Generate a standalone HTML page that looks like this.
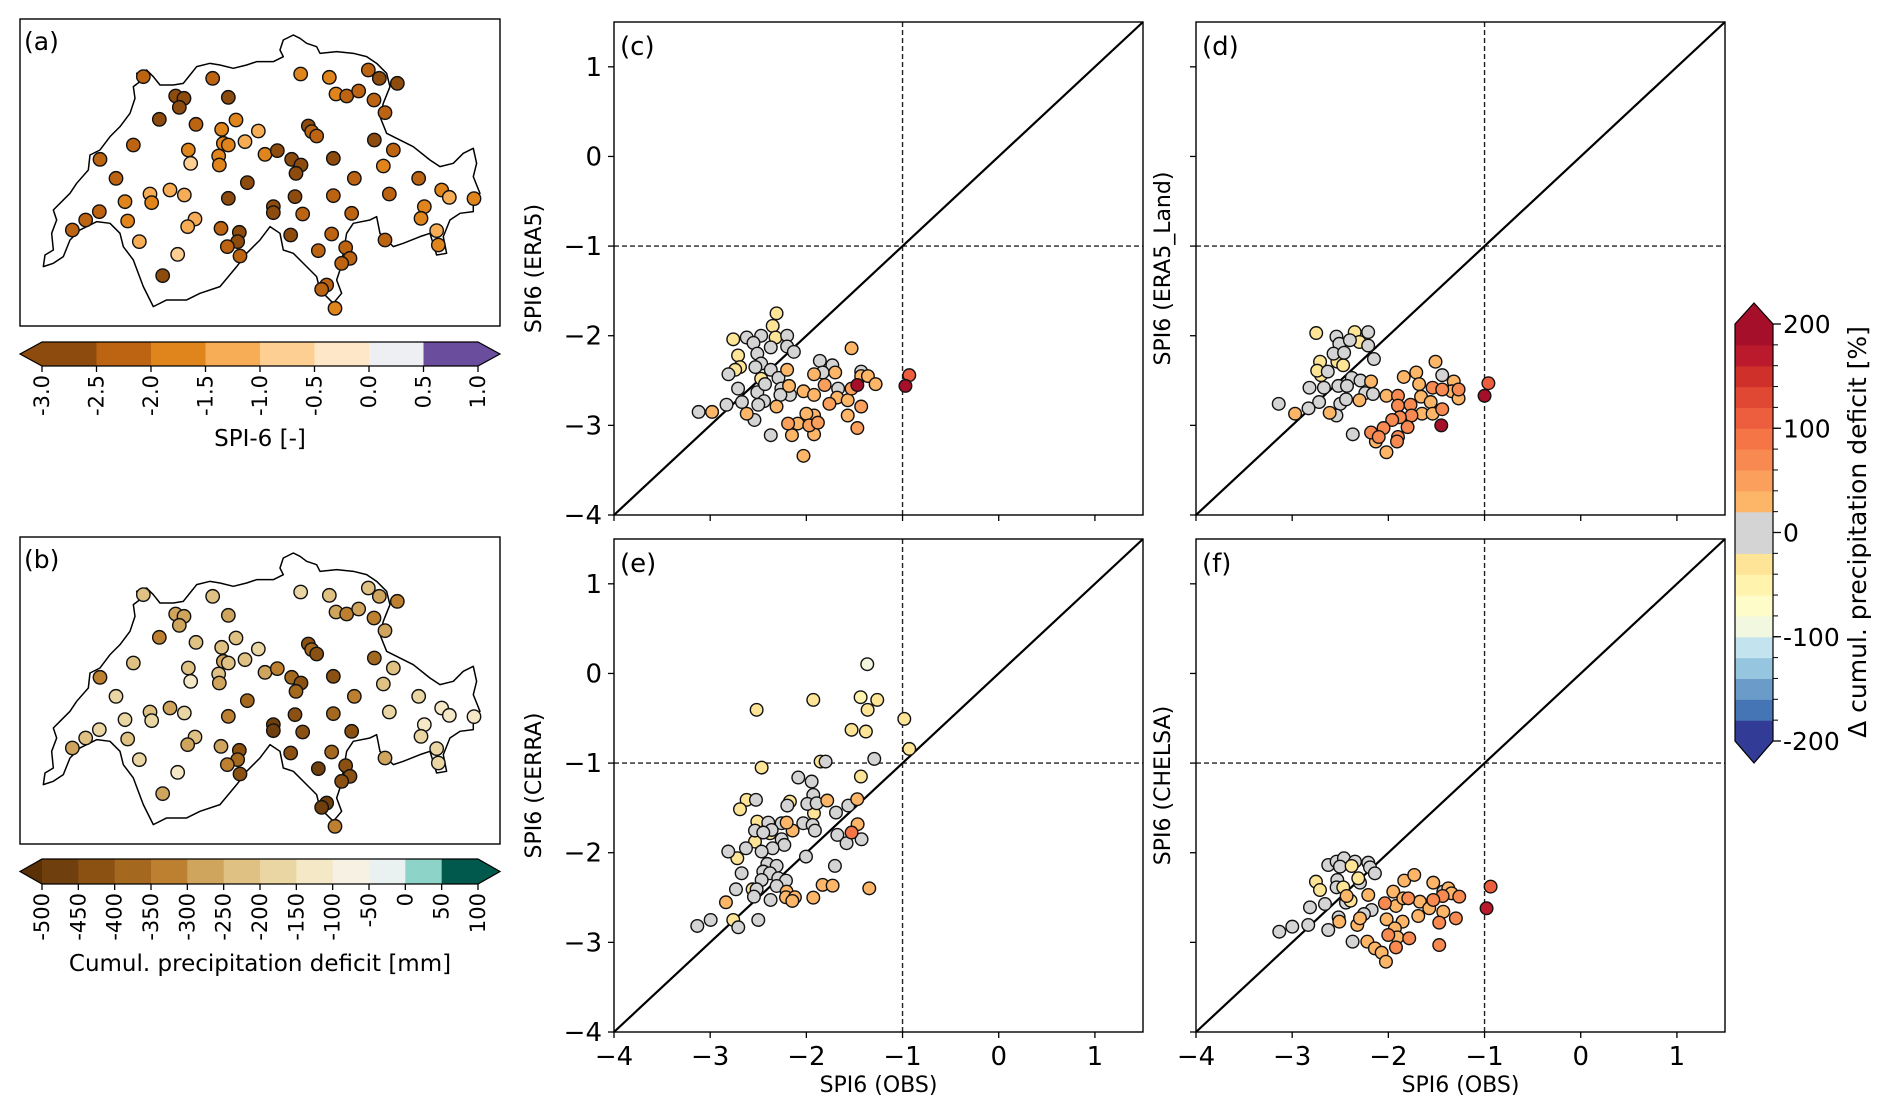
<!DOCTYPE html>
<html><head><meta charset="utf-8"><style>
html,body{margin:0;padding:0;background:#fff;}
svg{display:block;font-family:"DejaVu Sans","Liberation Sans",sans-serif;}
</style></head><body>
<svg id="fig" xmlns="http://www.w3.org/2000/svg" width="1892" height="1116" viewBox="0 0 1892 1116"></svg>
<script>
// ---------- scatter data: SPI6 OBS vs reanalysis, delta cumul. deficit [%] ----------
const obsC=[-2.31,-2.35,-2.76,-2.32,-2.71,-2.69,-2.74,-2.47,
-2.62,-2.47,-2.55,-2.37,-2.2,-2.2,-2.13,-2.51,-2.47,-2.53,-2.37,-2.81,-2.29,-2.71,-2.51,-2.26,-2.17,-2.44,-2.5,-2.67,-2.83,-3.12,-2.54,-2.37,-1.86,-1.73,-1.83,-1.67,-1.43,-2.27,-2.43,
-2.98,-2.62,-2.31,-2.2,-2.18,-2.03,-1.92,-1.92,-1.92,-1.70,-1.68,-1.57,-1.53,-1.43,-1.36,-1.28,-2.15,-2.03,-2.0,-1.57,-1.92,-2.09,
-1.81,-1.76,-2.19,-1.97,-1.88,-1.53,-1.43,-1.47,
-0.93,-1.47,-0.97];
const modC=[-1.75,-1.89,-2.04,-2.02,-2.22,-2.35,-2.38,-2.48,
-2.02,-2.0,-2.08,-2.13,-2.0,-2.12,-2.18,-2.2,-2.31,-2.35,-2.38,-2.43,-2.47,-2.59,-2.63,-2.59,-2.66,-2.73,-2.77,-2.74,-2.77,-2.85,-2.94,-3.11,-2.28,-2.33,-2.41,-2.59,-2.4,-2.66,-2.54,
-2.85,-2.87,-2.79,-2.38,-2.56,-2.62,-2.43,-2.66,-2.89,-2.41,-2.69,-2.72,-2.14,-2.45,-2.45,-2.54,-3.11,-3.34,-2.87,-2.89,-3.10,-2.98,
-2.55,-2.76,-2.98,-3.0,-2.97,-2.59,-2.79,-3.03,
-2.44,-2.55,-2.56];
const dltC=[-30,-30,-30,-30,-30,-30,-30,-30,
0,0,0,0,0,0,0,0,0,0,0,0,0,0,0,0,0,0,0,0,0,0,0,0,0,0,0,0,0,0,0,
30,30,30,30,30,30,30,30,30,30,30,30,30,30,30,30,30,30,30,30,30,30,
50,50,50,50,50,50,50,50,
110,190,190];

const obsD=[-2.75,-2.35,-2.30,-2.71,-2.53,-2.47,-2.70,-2.74,
-2.54,-2.51,-2.40,-2.21,-2.21,-2.57,-2.46,-2.15,-2.63,-2.38,-2.29,-2.82,-2.67,-2.52,-2.43,-2.24,-2.16,-2.72,-2.50,-2.83,-2.54,-3.14,-2.37,-1.44,-2.44,
-2.97,-2.61,-2.30,-2.18,-1.84,-1.71,-1.68,-1.51,-1.32,-1.34,-1.27,-2.02,-1.66,-1.56,-1.65,-1.54,-2.02,-2.13,
-1.90,-1.90,-1.77,-1.76,-1.88,-1.96,-1.80,-2.05,-2.18,-2.10,-1.90,-1.91,-1.44,-1.54,-1.44,-1.27,
-0.96,-1.45,-1.00];
const modD=[-1.97,-1.96,-2.07,-2.29,-2.29,-2.33,-2.44,-2.39,
-2.01,-2.09,-2.05,-1.96,-2.11,-2.20,-2.19,-2.26,-2.40,-2.47,-2.50,-2.58,-2.58,-2.56,-2.56,-2.64,-2.65,-2.74,-2.76,-2.81,-2.89,-2.76,-3.10,-2.44,-2.71,
-2.87,-2.86,-2.72,-2.51,-2.46,-2.41,-2.54,-2.29,-2.51,-2.62,-2.70,-2.67,-2.68,-2.74,-2.87,-2.87,-3.30,-3.18,
-2.67,-2.78,-2.77,-2.89,-2.91,-2.94,-3.02,-3.03,-3.08,-3.13,-3.13,-3.18,-2.82,-2.58,-2.60,-2.60,
-2.53,-3.0,-2.67];
const dltD=[-30,-30,-30,-30,-30,-30,-30,-30,
0,0,0,0,0,0,0,0,0,0,0,0,0,0,0,0,0,0,0,0,0,0,0,0,0,
30,30,30,30,30,30,30,30,30,30,30,30,30,30,30,30,30,30,
70,70,70,70,70,70,70,70,70,70,70,70,70,70,70,70,
110,190,190];

const obsE=[-1.367,-1.928,-2.517,-1.436,-1.263,-1.363,-1.53,-1.381,-0.982,-0.93,-1.852,-2.465,-1.433,-2.621,-2.69,-2.171,-1.921,-2.51,-2.534,-2.718,-2.378,-2.559,-2.76,
-1.8,-1.294,-2.084,-1.945,-2.524,-1.928,-1.99,-1.893,-2.198,-1.692,-1.564,-2.032,-1.935,-1.911,-2.257,-2.396,-2.534,-2.361,-2.448,-1.678,-1.582,-1.426,-2.257,-2.229,-2.351,-2.628,-2.465,-2.812,-2.004,-1.703,-2.406,-2.309,-2.673,-2.448,-2.378,-2.465,-2.292,-2.212,-2.309,-2.732,-2.517,-2.545,-2.372,-2.5,-2.708,-2.995,-3.134,
-1.783,-1.471,-1.467,-2.143,-2.205,-1.831,-1.727,-1.346,-1.928,-2.205,-2.212,-2.119,-2.146,-2.836,
-1.53];
const modE=[0.103,-0.295,-0.406,-0.265,-0.295,-0.406,-0.629,-0.648,-0.507,-0.842,-0.983,-1.05,-1.15,-1.41,-1.515,-1.43,-1.56,-1.653,-1.876,-2.062,-1.783,-2.408,-2.75,
-0.983,-0.953,-1.161,-1.206,-1.41,-1.355,-1.455,-1.448,-1.474,-1.552,-1.474,-1.671,-1.69,-1.753,-1.671,-1.664,-1.753,-1.746,-1.775,-1.801,-1.894,-1.85,-1.85,-1.913,-1.95,-1.95,-1.987,-1.987,-2.043,-2.147,-2.125,-2.147,-2.229,-2.21,-2.229,-2.304,-2.285,-2.311,-2.371,-2.408,-2.408,-2.49,-2.527,-2.75,-2.832,-2.75,-2.817,
-1.418,-1.403,-1.682,-1.753,-1.664,-2.359,-2.367,-2.397,-2.501,-2.434,-2.497,-2.497,-2.538,-2.553,
-1.775];
const dltE=[-90,-30,-30,-50,-30,-30,-30,-30,-30,-30,-30,-30,-30,-30,-30,-30,-30,-30,-30,-30,-30,-30,-30,
0,0,0,0,0,0,0,0,0,0,0,0,0,0,0,0,0,0,0,0,0,0,0,0,0,0,0,0,0,0,0,0,0,0,0,0,0,0,0,0,0,0,0,0,0,0,0,
30,30,30,30,30,30,30,30,30,30,30,30,30,30,
90];

const obsF=[-2.625,-2.538,-2.462,-2.347,-2.209,-2.191,-2.14,-2.531,-2.295,-2.503,-2.538,-2.441,-2.659,-2.815,-2.174,-2.254,-2.517,-2.833,-2.999,-3.134,-2.625,-2.372,-1.429,
-2.753,-2.711,-2.469,-2.393,-2.313,-2.382,
-2.434,-2.209,-2.51,-2.323,-2.295,-1.835,-1.731,-1.533,-1.377,-1.343,-1.949,-1.921,-1.845,-1.672,-1.575,-1.689,-2.018,-1.852,-1.932,-2.219,-2.14,-2.07,-2.025,-1.907,-1.429,
-2.036,-1.793,-1.436,-1.263,-1.533,-1.298,-1.471,-1.783,-2.001,-1.921,-1.471,
-0.937,-0.979];
const modF=[-2.137,-2.099,-2.062,-2.099,-2.111,-2.163,-2.23,-2.304,-2.334,-2.155,-2.386,-2.557,-2.572,-2.609,-2.639,-2.684,-2.721,-2.806,-2.825,-2.881,-2.862,-2.992,-2.434,
-2.323,-2.416,-2.386,-2.535,-2.285,-2.148,
-2.483,-2.471,-2.769,-2.806,-2.732,-2.311,-2.248,-2.334,-2.397,-2.453,-2.434,-2.594,-2.509,-2.546,-2.62,-2.706,-2.743,-2.769,-2.844,-2.992,-3.067,-3.115,-3.216,-2.944,-2.658,
-2.564,-2.509,-2.483,-2.49,-2.527,-2.732,-2.78,-2.955,-2.918,-3.056,-3.03,
-2.378,-2.62];
const dltF=[0,0,0,0,0,0,0,0,0,0,0,0,0,0,0,0,0,0,0,0,0,0,0,
-30,-30,-30,-30,-30,-30,
30,30,30,30,30,30,30,30,30,30,30,30,30,30,30,30,30,30,30,30,30,30,30,30,30,
70,70,70,70,70,70,70,70,70,70,70,
110,170];

const axisTicks=[-4,-3,-2,-1,0,1];
const axisTickLabels=["\u22124","\u22123","\u22122","\u22121","0","1"];
const deltaTicks=[-200,-100,0,100,200];

// ---------- map data: station positions (map units) and values ----------
const stX=[370,578,842,928,1045,1078,1132,467,492,478,625,948,980,1016,1062,1095,418,528,648,605,715,675,865,875,890,340,505,610,625,1063,1120,240,512,596,598,735,772,815,843,828,940,1090,288,682,1003,1196,390,450,493,395,315,625,825,940,1108,1265,1288,1362,238,197,157,323,525,503,603,658,653,622,660,760,760,848,995,1213,1203,812,935,1095,1250,1255,358,473,428,895,977,990,965,920,905,945];
const stY=[170,175,162,172,150,175,190,228,235,262,232,222,228,213,240,278,298,313,300,328,333,365,318,335,348,375,390,370,375,360,390,418,430,408,435,403,392,418,435,460,415,438,475,488,475,475,522,510,525,548,545,535,530,527,522,510,532,536,575,600,630,603,597,620,625,637,665,680,708,560,578,582,580,560,595,645,642,660,632,675,665,703,767,692,683,715,730,795,808,865];
const spiA=[-2.25,-2.25,-1.75,-1.75,-2.25,-2.75,-2.75,-2.75,-2.75,-2.75,-2.75,-1.75,-2.25,-2.25,-2.25,-2.25,-2.75,-2.25,-1.75,-1.75,-1.25,-1.25,-2.75,-2.25,-2.25,-2.25,-1.75,-1.75,-1.75,-2.75,-2.25,-2.25,-0.75,-1.75,-1.75,-1.75,-2.75,-2.75,-2.75,-2.75,-2.75,-1.75,-2.25,-2.75,-2.25,-2.25,-1.25,-1.25,-1.25,-1.75,-1.75,-2.75,-2.75,-2.25,-2.25,-1.75,-1.25,-1.75,-2.25,-2.25,-2.25,-1.75,-1.25,-1.25,-2.25,-2.75,-2.75,-2.25,-2.25,-2.75,-2.75,-2.25,-2.25,-1.75,-1.75,-2.75,-2.25,-2.25,-1.25,-1.75,-1.25,-0.75,-2.75,-2.25,-2.25,-2.25,-2.25,-2.25,-2.25,-1.75];
const defB=[-220,-220,-200,-220,-220,-270,-320,-280,-280,-270,-270,-270,-320,-270,-320,-270,-320,-220,-220,-220,-180,-220,-420,-370,-420,-220,-220,-270,-220,-370,-220,-320,-130,-220,-270,-270,-320,-370,-420,-370,-420,-220,-180,-370,-320,-180,-220,-270,-180,-180,-180,-320,-420,-370,-180,-130,-130,-130,-180,-220,-270,-220,-220,-270,-270,-420,-370,-320,-420,-470,-470,-420,-420,-130,-180,-420,-370,-270,-180,-180,-180,-130,-270,-470,-420,-420,-420,-470,-470,-320];
const spiTicks=["-3.0","-2.5","-2.0","-1.5","-1.0","-0.5","0.0","0.5","1.0"];
const defTicks=["-500","-450","-400","-350","-300","-250","-200","-150","-100","-50","0","50","100"];

// ---------- styles ----------
const deltaColors=["#323c96","#4575b4","#6a9bc9","#95c5df","#c3e3ef","#f2f8df","#fefcc8","#fff3ae","#fee496","#d4d4d4","#d4d4d4","#fdb668","#fba05c","#f88a51","#f57547","#ec5e3d","#e04834","#d0302a","#ba1a2b","#a50f2a"];
const spiColors=["#8e4b0e","#bc6412","#e0841c","#f6ad55","#fdcf93","#fee6c9","#eeeff3","#6b4d9d"];
const defColors=["#6f400e","#8a5113","#a4691f","#bd8030","#cfa45c","#dfc283","#ead6a3","#f5e8c6","#f6f1e3","#eaf2f1","#8dd3c7","#01584c"];
const NS="http://www.w3.org/2000/svg";
const svg=document.getElementById('fig');
function el(tag,attrs,parent,txt){const e=document.createElementNS(NS,tag);for(const k in attrs)e.setAttribute(k,attrs[k]);if(txt!==undefined)e.textContent=txt;(parent||svg).appendChild(e);return e;}
function dColor(v){let i=Math.floor((v+200)/20);i=Math.max(0,Math.min(19,i));return deltaColors[i];}

// ---------- scatter panels ----------
const panels=[
 {id:'c',L:614,T:22,obs:obsC,mod:modC,d:dltC,ylab:'SPI6 (ERA5)',yl:true,xl:false},
 {id:'d',L:1196,T:22,obs:obsD,mod:modD,d:dltD,ylab:'SPI6 (ERA5_Land)',yl:false,xl:false},
 {id:'e',L:614,T:539,obs:obsE,mod:modE,d:dltE,ylab:'SPI6 (CERRA)',yl:true,xl:true},
 {id:'f',L:1196,T:539,obs:obsF,mod:modF,d:dltF,ylab:'SPI6 (CHELSA)',yl:false,xl:true}];
const W=529,H=493;
panels.forEach(p=>{
  const g=el('g',{});
  
  
  const sx=v=>p.L+(v+4)/5.5*W, sy=v=>p.T+H-(v+4)/5.5*H;
  // reference lines
  const vl=el('line',{x1:sx(-1),x2:sx(-1),y1:p.T,y2:p.T+H,stroke:'#222','stroke-width':1.4,'stroke-dasharray':'5,3'},g);
  
  
  const hl=el('line',{x1:p.L,x2:p.L+W,y1:sy(-1),y2:sy(-1),stroke:'#222','stroke-width':1.4,'stroke-dasharray':'5,3'},g);
  
  
  const dg=el('line',{x1:sx(-4),y1:sy(-4),x2:sx(1.5),y2:sy(1.5),stroke:'#000','stroke-width':2.2},g);
  
  
  // points
  for(let i=0;i<p.obs.length;i++){
    const c=el('circle',{cx:sx(p.obs[i]),cy:sy(p.mod[i]),r:6.3,fill:dColor(p.d[i]),stroke:'#111','stroke-width':1.4},g);
    
    
  }
  // frame
  const fr=el('rect',{x:p.L,y:p.T,width:W,height:H,fill:'none',stroke:'#000','stroke-width':1.4},g);
  
  
  // ticks
  axisTicks.forEach((t,k)=>{
    el('line',{x1:p.L-6,x2:p.L,y1:sy(t),y2:sy(t),stroke:'#000','stroke-width':1.3},g);
    el('line',{x1:sx(t),x2:sx(t),y1:p.T+H,y2:p.T+H+6,stroke:'#000','stroke-width':1.3},g);
    if(p.yl){const tx=el('text',{x:p.L-12,y:sy(t)+9,'text-anchor':'end','font-size':26,fill:'#000'},g,axisTickLabels[k]);
      
      }
    if(p.xl){const tx=el('text',{x:sx(t),y:p.T+H+33,'text-anchor':'middle','font-size':26,fill:'#000'},g,axisTickLabels[k]);
      
      }
  });
  const lab=el('text',{x:p.L+6,y:p.T+33,'font-size':26,fill:'#000'},g,'('+p.id+')');
  
  
  const yx=p.yl?541:1170, yc=p.T+H/2;
  const yt=el('text',{x:yx,y:yc,'text-anchor':'middle','font-size':22,transform:'rotate(-90 '+yx+' '+yc+')',fill:'#000'},g,p.ylab);
  
  
  if(p.xl){const xt=el('text',{x:p.L+W/2,y:1092,'text-anchor':'middle','font-size':22,fill:'#000'},g,'SPI6 (OBS)');
    
    }
});

// ---------- delta colorbar ----------
(function(){
  const g=el('g',{});
  
  
  const x0=1735,x1=1773,top=324,bot=741,bh=(bot-top)/20;
  const cy=v=>bot-(v+200)/400*(bot-top);
  for(let i=0;i<20;i++){el('rect',{x:x0,y:bot-(i+1)*bh,width:x1-x0,height:bh+0.6,fill:deltaColors[i]},g);}
  el('polygon',{points:x0+','+top+' '+x1+','+top+' '+(x0+x1)/2+',303',fill:deltaColors[19]},g);
  el('polygon',{points:x0+','+bot+' '+x1+','+bot+' '+(x0+x1)/2+',763',fill:deltaColors[0]},g);
  el('polygon',{points:x0+','+top+' '+(x0+x1)/2+',303 '+x1+','+top+' '+x1+','+bot+' '+(x0+x1)/2+',763 '+x0+','+bot,fill:'none',stroke:'#000','stroke-width':1.2},g);
  for(let i=0;i<=20;i++){el('line',{x1:x1,x2:x1+5,y1:top+i*bh,y2:top+i*bh,stroke:'#000','stroke-width':1},g);}
  deltaTicks.forEach(t=>{
    el('line',{x1:x1,x2:x1+8,y1:cy(t),y2:cy(t),stroke:'#000','stroke-width':1.3},g);
    const tx=el('text',{x:x1+10,y:cy(t)+9,'font-size':25,fill:'#000'},g,String(t));
    
    
  });
  const lb=el('text',{x:1866,y:532,'text-anchor':'middle','font-size':25,transform:'rotate(-90 1866 532)',fill:'#000'},g,'\u0394 cumul. precipitation deficit [%]');
  
  
})();

// ---------- maps ----------
const outline="M70,740 L75,705 L100,690 L95,640 L110,600 L100,570 L120,550 L150,520 L170,490 L205,450 L210,405 L240,390 L270,350 L300,320 L330,280 L345,235 L340,200 L360,185 L350,160 L380,150 L400,170 L420,195 L460,195 L490,190 L510,165 L530,140 L570,130 L600,135 L640,145 L680,135 L710,125 L760,125 L790,110 L780,90 L790,60 L820,45 L840,55 L860,70 L890,80 L900,100 L950,95 L1000,100 L1040,110 L1070,130 L1100,160 L1110,200 L1090,250 L1080,290 L1100,340 L1120,350 L1180,380 L1230,420 L1260,440 L1300,430 L1330,400 L1360,385 L1370,430 L1360,470 L1380,520 L1360,545 L1360,575 L1320,580 L1290,600 L1270,650 L1280,700 L1250,705 L1230,640 L1200,650 L1150,670 L1120,680 L1080,640 L1070,590 L1050,600 L1000,610 L980,640 L970,700 L960,750 L950,780 L965,820 L940,850 L900,810 L890,770 L860,740 L820,700 L790,690 L780,640 L750,620 L720,660 L680,700 L650,740 L600,800 L540,820 L500,840 L440,840 L400,860 L370,800 L340,720 L310,680 L300,640 L270,610 L230,605 L180,630 L150,660 L130,710 L100,730 Z";
function drawMap(name,oy,vals,colorFn,label){
  const g=el('g',{});
  
  
  el('rect',{x:20,y:oy-1,width:480,height:307,fill:'#fff',stroke:'#000','stroke-width':1.4},g);
  el('path',{d:outline,transform:'translate(20,'+oy+') scale(0.3333)',fill:'none',stroke:'#000','stroke-width':4.5,'stroke-linejoin':'round'},g);
  for(let i=0;i<stX.length;i++){
    const c=el('circle',{cx:20+stX[i]/3,cy:oy+stY[i]/3,r:6.7,fill:colorFn(vals[i]),stroke:'#111','stroke-width':1.4},g);
    
    
  }
  const t=el('text',{x:24,y:oy+30,'font-size':25,fill:'#000'},g,label);
  
  
}
drawMap('map-spi6',20,spiA,v=>spiColors[Math.max(0,Math.min(7,Math.floor((v+3)/0.5)))],'(a)');
drawMap('map-deficit',538,defB,v=>defColors[Math.max(0,Math.min(11,Math.floor((v+500)/50)))],'(b)');

function hbar(name,y0,y1,colors,leftTip,rightTip,labels,title,titleY){
  const g=el('g',{});
  
  
  const x0=42,x1=478,n=colors.length,w=(x1-x0)/n,ym=(y0+y1)/2;
  colors.forEach((c,i)=>el('rect',{x:x0+i*w,y:y0,width:w+0.6,height:y1-y0,fill:c},g));
  el('polygon',{points:x0+','+y0+' 20,'+ym+' '+x0+','+y1,fill:leftTip},g);
  el('polygon',{points:x1+','+y0+' 500,'+ym+' '+x1+','+y1,fill:rightTip},g);
  el('polygon',{points:x0+','+y0+' '+x1+','+y0+' 500,'+ym+' '+x1+','+y1+' '+x0+','+y1+' 20,'+ym,fill:'none',stroke:'#000','stroke-width':1.2},g);
  labels.forEach((l,i)=>{
    const x=x0+i*w;
    el('line',{x1:x,x2:x,y1:y1,y2:y1+6,stroke:'#000','stroke-width':1.3},g);
    const t=el('text',{x:x,y:y1+9,'text-anchor':'end','dominant-baseline':'central','font-size':21,transform:'rotate(-90 '+x+' '+(y1+9)+')',fill:'#000'},g,l);
    
    
  });
  const tt=el('text',{x:260,y:titleY,'text-anchor':'middle','font-size':23,fill:'#000'},g,title);
  
  
}
hbar('spi-colorbar',342,366,spiColors,spiColors[0],spiColors[7],spiTicks,'SPI-6 [-]',446);
hbar('deficit-colorbar',859,884,defColors,'#5a3007','#01584c',defTicks,'Cumul. precipitation deficit [mm]',971);
</script>
</body></html>
